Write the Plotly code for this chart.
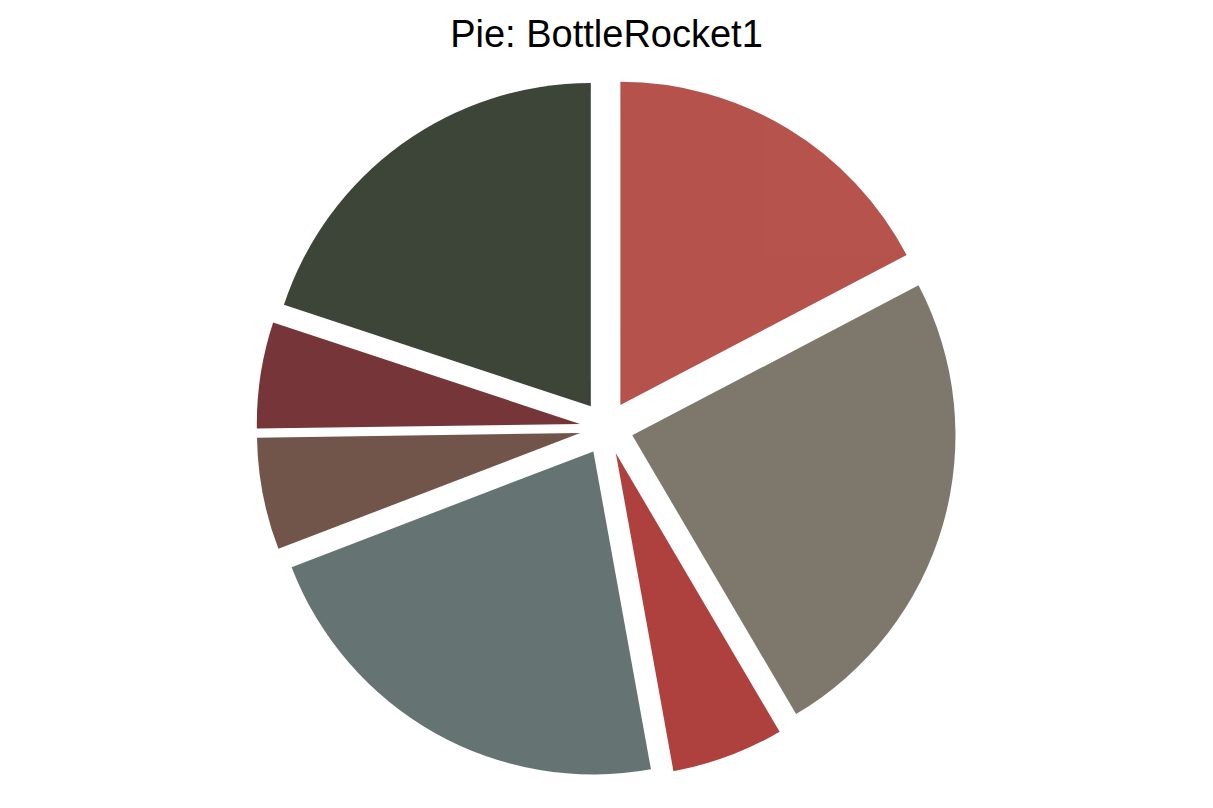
import plotly.graph_objects as go

labels = ["A", "B", "C", "D", "E", "F", "G"]
values = [17.3, 24.2, 5.6, 22.0, 5.6, 5.3, 19.9]
colors = ["#A42820", "#5F5647", "#9B110E", "#3F5151", "#4E2A1E", "#550307", "#0C1707"]

fig = go.Figure(go.Pie(
    labels=labels,
    values=values,
    marker=dict(colors=colors),
    opacity=0.8,
    sort=False,
    direction="clockwise",
    rotation=0,
    pull=[0.083] * len(values),
    textinfo="none",
    hoverinfo="label+value",
    showlegend=False,
))

fig.update_layout(
    title=dict(text="Pie: BottleRocket1", x=0.5, xanchor="center", y=0.958, yanchor="middle",
               font=dict(family="Liberation Sans, Arial, sans-serif", size=38, color="black")),
    width=1213, height=808,
    margin=dict(l=0, r=0, t=78, b=30),
    paper_bgcolor="white",
    plot_bgcolor="white",
)

fig.write_html("out.html")
